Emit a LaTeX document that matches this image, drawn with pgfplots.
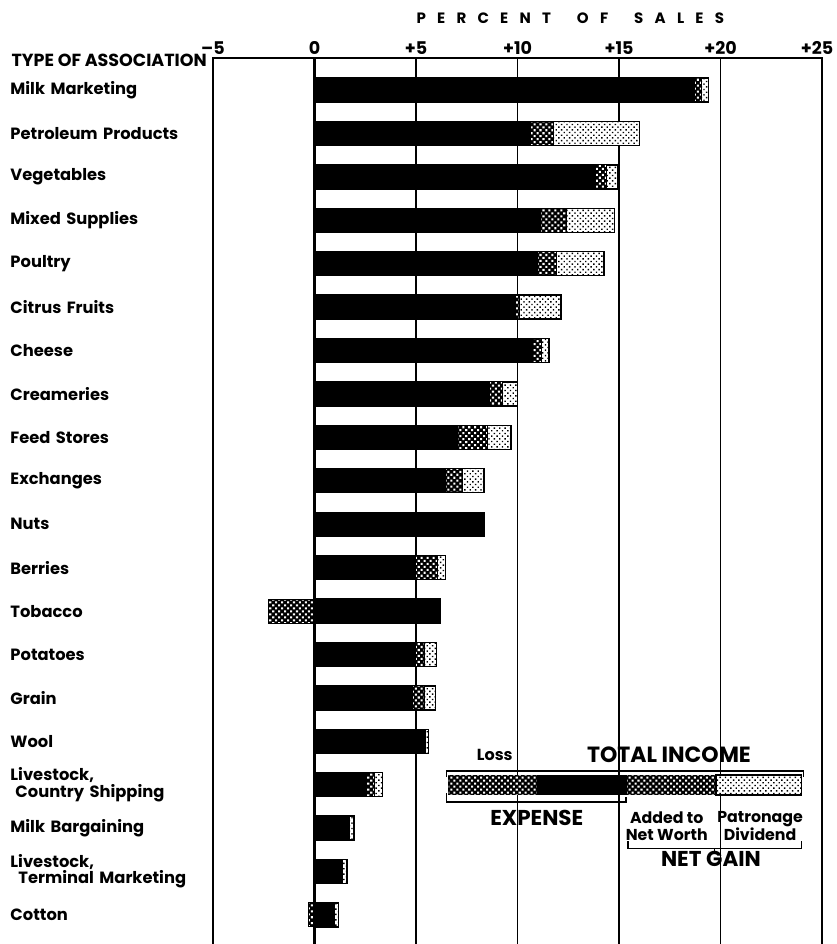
\documentclass[border=0pt]{standalone}
\usepackage{fontspec}
\setmainfont{Poppins}
\usepackage{pgfplots}
\pgfplotsset{compat=1.18}
\usepackage{pgfplotstable}
\usetikzlibrary{patterns.meta}

% segment lengths (percent of sales)
\pgfplotstableread{
y exp nw pd loss
20 18.70 0.35 0.35 0
19 10.65 1.10 4.25 0
18 13.85 0.55 0.53 0
17 11.15 1.25 2.37 0
16 11.00 0.90 2.37 0
15 9.92 0.18 2.04 0
14 10.74 0.46 0.36 0
13 8.60 0.66 0.74 0
12 7.04 1.46 1.17 0
11 6.46 0.84 1.05 0
10 8.35 0 0 0
9 4.98 1.07 0.41 0
8 6.22 0 0 -2.25
7 4.98 0.42 0.60 0
6 4.82 0.58 0.57 0
5 5.45 0 0.17 0
4 2.55 0.40 0.39 0
3 1.70 0 0.24 0
2 1.40 0 0.21 0
1 1.00 0 0.17 -0.30
}\data

\tikzset{
 expst/.style={fill=black, draw=black, line width=1pt},
 nwst/.style={fill=black, draw=black, line width=1pt,
   postaction={pattern={Dots[radius=1.45pt,distance=4.2pt,angle=45]}, pattern color=white}},
 pdst/.style={fill=white, draw=black, line width=1.4pt,
   postaction={pattern={Dots[radius=1.0pt,distance=3.8pt,angle=45]}, pattern color=black}},
}

\begin{document}
\begin{tikzpicture}
\begin{axis}[
  name=ax, scale only axis, width=609pt, height=886pt,
  xmin=-5, xmax=25, ymin=0.332, ymax=20.737,
  xbar, bar width=24pt, bar shift=0pt,
  clip=false,
  axis line style={draw=none},
  xticklabel pos=upper,
  xtick={-5,0,5,10,15,20,25},
  xticklabels={--5,0,+5,+10,+15,+20,{\hspace*{-10pt}+25}},
  xticklabel style={font=\bfseries\fontsize{17.5}{17.5}\selectfont, yshift=0pt},
  major tick length=0pt,
  xmajorgrids, grid style={black, line width=1.8pt},
  ytick={1,...,20},
  yticklabels={Cotton,{Livestock,\\\hspace*{8pt}Terminal Marketing},Milk Bargaining,{Livestock,\\\hspace*{5pt}Country Shipping},Wool,Grain,Potatoes,Tobacco,Berries,Nuts,Exchanges,Feed Stores,Creameries,Cheese,Citrus Fruits,Poultry,Mixed Supplies,Vegetables,Petroleum Products,Milk Marketing},
  yticklabel style={text width=199pt, align=left, font=\bfseries\fontsize{16.3}{14.5}\selectfont},
]
\addplot[pdst] table[x expr=\thisrow{exp}+\thisrow{nw}+\thisrow{pd}, y=y]{\data};
\addplot[nwst] table[x expr=\thisrow{exp}+\thisrow{nw}, y=y]{\data};
\addplot[expst] table[x=exp, y=y]{\data};
\addplot[nwst] table[x=loss, y=y]{\data};

\draw[line width=3.2pt] (axis cs:0,0.332) -- (axis cs:0,20.737);
\draw[line width=2pt] (rel axis cs:0,0) -- (rel axis cs:0,1) -- (rel axis cs:1,1) -- (rel axis cs:1,0);

\node[font=\bfseries\fontsize{15}{15}\selectfont\addfontfeature{LetterSpace=75}] at (axis cs:12.6,20.737) [yshift=40pt] {PERCENT\hspace{26pt}OF\hspace{26pt}SALES};
\node[anchor=east, inner sep=0pt, xshift=-6pt, yshift=-2pt, font=\bfseries\fontsize{17.5}{17.5}\selectfont] at (rel axis cs:0,1) {TYPE OF ASSOCIATION};

% key
\path[nwst] (axis cs:6.61,3.764) rectangle (axis cs:11.0,4.224);
\path[expst] (axis cs:11.0,3.764) rectangle (axis cs:15.4,4.224);
\path[nwst] (axis cs:15.4,3.764) rectangle (axis cs:19.78,4.224);
\path[pdst] (axis cs:19.78,3.764) rectangle (axis cs:24.0,4.224);
\draw[line width=1.5pt] (axis cs:6.5,4.18) |- (axis cs:24.1,4.316) -- (axis cs:24.1,4.18);
\draw[line width=1.5pt] (axis cs:6.5,3.80) |- (axis cs:15.35,3.602) -- (axis cs:15.35,3.72);
\draw[line width=1.5pt] (axis cs:15.45,2.70) |- (axis cs:24.0,2.53) -- (axis cs:24.0,2.70);
\draw[line width=1.5pt] (axis cs:19.7,2.53) -- (axis cs:19.7,2.46);
\node[font=\bfseries\fontsize{16}{16}\selectfont] at (axis cs:8.88,4.685) {Loss};
\node[font=\bfseries\fontsize{22}{22}\selectfont] at (axis cs:17.46,4.685) {TOTAL INCOME};
\node[font=\bfseries\fontsize{21.5}{21.5}\selectfont] at (axis cs:10.95,3.234) {EXPENSE};
\node[font=\bfseries\fontsize{15.8}{16.5}\selectfont, align=center, inner sep=0pt] at (axis cs:17.35,3.04) {Added to\\Net Worth};
\node[font=\bfseries\fontsize{15.8}{16.5}\selectfont, align=center, inner sep=0pt] at (axis cs:21.95,3.04) {Patronage\\Dividend};
\node[font=\bfseries\fontsize{21.5}{21.5}\selectfont] at (axis cs:19.53,2.29) {NET GAIN};
\end{axis}
\pgfresetboundingbox
\path ([xshift=-213pt]ax.south west) rectangle ([xshift=14pt,yshift=58pt]ax.north east);
\end{tikzpicture}
\end{document}
